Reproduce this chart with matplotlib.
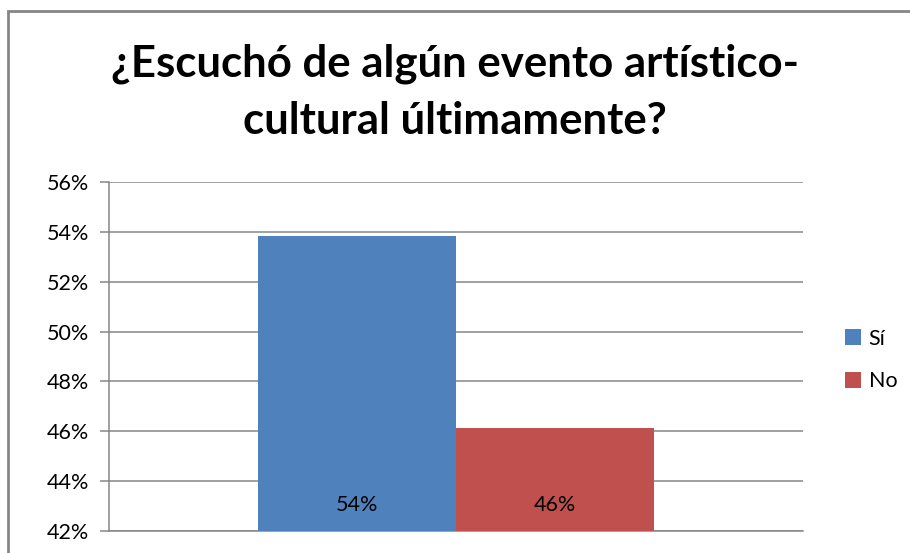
import matplotlib
matplotlib.use("Agg")
import matplotlib.pyplot as plt
from matplotlib.patches import Rectangle
from matplotlib.ticker import FuncFormatter, MultipleLocator

plt.rcParams["font.family"] = ["Lato", "DejaVu Sans"]

titulo = ["¿Escuchó de algún evento artístico-", "cultural últimamente?"]
series = ["Sí", "No"]
valores = [0.5385, 0.4615]
etiquetas = ["54%", "46%"]
colores = ["#4F81BD", "#C0504D"]
y_min, y_max, y_paso = 0.42, 0.56, 0.02

W, H = 910, 553
GRIS = "#868686"
fig = plt.figure(figsize=(W / 100, H / 100), dpi=100, facecolor="white")

# marco exterior del grafico
fig.patches.append(Rectangle((8 / W, -0.05), 1.1, 1 - 10.5 / H + 0.05,
                             transform=fig.transFigure, fill=False,
                             edgecolor=GRIS, lw=2))

ax = fig.add_axes([109 / W, 22 / H, (803 - 109) / W, (531 - 182) / H])

# ancho de separacion 75% -> cada barra ocupa 1/(2*1.75) de la categoria
ancho = 1 / (2 * 1.75)
for i, (nombre, v, et, c) in enumerate(zip(series, valores, etiquetas, colores)):
    x = -ancho / 2 + i * ancho
    ax.bar(x, v - y_min, bottom=y_min, width=ancho, color=c, label=nombre, zorder=3)
    ax.annotate(et, xy=(x, y_min), xytext=(0, 18.5), textcoords="offset points",
                ha="center", va="center", fontsize=15.5, color="black", zorder=4)

ax.set_xlim(-0.5, 0.5)
ax.set_ylim(y_min, y_max)
ax.yaxis.set_major_locator(MultipleLocator(y_paso))
ax.yaxis.set_major_formatter(FuncFormatter(lambda v, _: f"{v * 100:.0f}%"))
ax.set_xticks([])
ax.grid(axis="y", color=GRIS, lw=1.1, zorder=0)
ax.tick_params(axis="y", length=6.5, width=1.1, color=GRIS, labelsize=15.5, pad=8)
for lado in ["top", "right"]:
    ax.spines[lado].set_visible(False)
for lado in ["left", "bottom"]:
    ax.spines[lado].set_color(GRIS)
    ax.spines[lado].set_linewidth(1.1)

for linea, y_base in zip(titulo, [77, 134]):
    fig.text(0.5, 1 - y_base / H, linea, ha="center", va="baseline",
             fontsize=31.5, weight="bold")

ax.legend(loc="center left", bbox_to_anchor=(845 / W, 1 - 360 / H),
          bbox_transform=fig.transFigure, frameon=False, fontsize=15.5,
          handlelength=0.75, handleheight=0.75, handletextpad=0.35, labelspacing=1.05,
          borderaxespad=0, borderpad=0)

fig.savefig("out.png", dpi=100, facecolor="white")
